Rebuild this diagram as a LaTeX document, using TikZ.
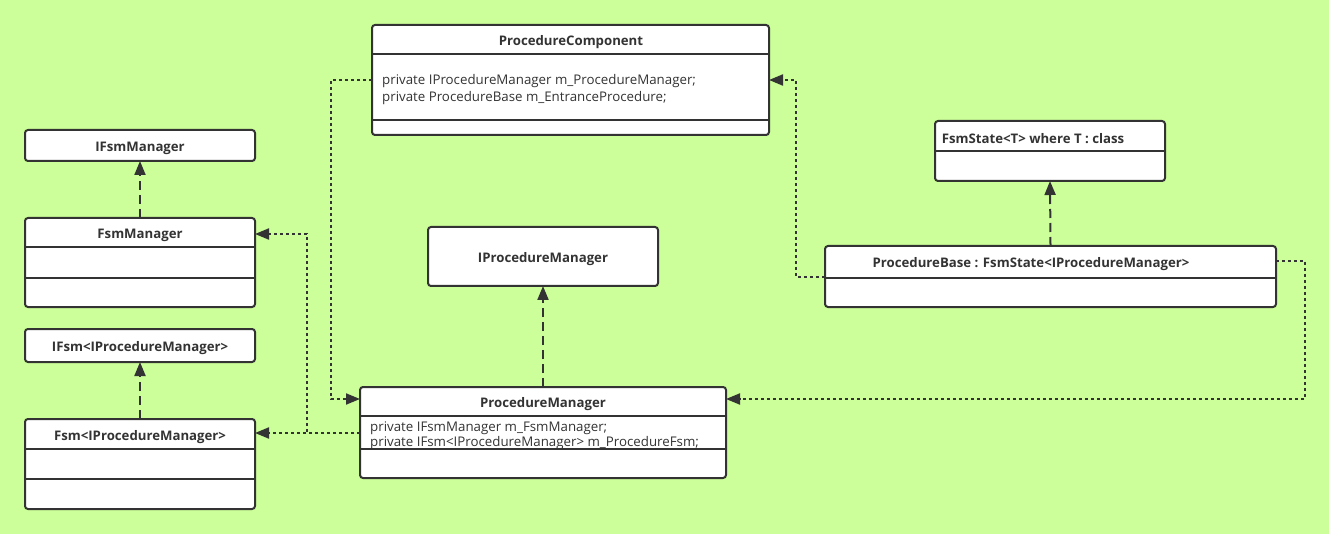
\documentclass[tikz,border=0pt]{standalone}
\usepackage{fontspec}
\setmainfont{Open Sans}
\usetikzlibrary{arrows.meta}
\definecolor{bg}{HTML}{CCFF99}
\definecolor{ink}{HTML}{333333}

\begin{document}
\begin{tikzpicture}[x=1pt, y=-1pt, font=\fontsize{13.3}{17}\selectfont,
  >={Triangle[length=14pt, width=11pt]},
  cls/.style={draw=ink, fill=white, line width=2pt, rounded corners=3pt,
    anchor=north west, inner sep=0pt, outer sep=0pt},
  ttl/.style={font=\fontsize{13.2}{16}\selectfont\bfseries, text=ink, inner sep=0pt, yshift=-1.5pt},
  attr/.style={text=ink, align=left, anchor=north west, inner sep=0pt},
  sep/.style={draw=ink, line width=2pt},
  impl/.style={->, draw=ink, line width=2pt, dash pattern=on 9pt off 5pt},
  dep/.style={->, draw=ink, line width=2pt, dash pattern=on 3pt off 3pt}]
  \fill[bg] (0,0) rectangle (1329,534);
  \useasboundingbox (0,0) rectangle (1329,534);

  % classes
  \node[cls, minimum width=397pt, minimum height=110pt] (pc) at (372,25) {};
  \node[cls, minimum width=230pt, minimum height=31pt] (ifm) at (25,130) {};
  \node[cls, minimum width=230pt, minimum height=89pt] (fm) at (25,218) {};
  \node[cls, minimum width=230pt, minimum height=33pt] (ifsm) at (25,329) {};
  \node[cls, minimum width=230pt, minimum height=90pt] (fsm) at (25,419) {};
  \node[cls, minimum width=230pt, minimum height=59pt] (ipm) at (428,227) {};
  \node[cls, minimum width=366pt, minimum height=91pt] (pm) at (360,387) {};
  \node[cls, minimum width=230pt, minimum height=60pt] (fs) at (935,121) {};
  \node[cls, minimum width=451pt, minimum height=61pt] (pb) at (825,246) {};

  \draw[sep] (pc.west |- 0,54) -- (pc.east |- 0,54);
  \draw[sep] (pc.west |- 0,120) -- (pc.east |- 0,120);
  \draw[sep] (fm.west |- 0,247) -- (fm.east |- 0,247);
  \draw[sep] (fm.west |- 0,278) -- (fm.east |- 0,278);
  \draw[sep] (fsm.west |- 0,449) -- (fsm.east |- 0,449);
  \draw[sep] (fsm.west |- 0,479) -- (fsm.east |- 0,479);
  \draw[sep] (pm.west |- 0,416) -- (pm.east |- 0,416);
  \draw[sep] (fs.west |- 0,151) -- (fs.east |- 0,151);
  \draw[sep] (pb.west |- 0,278) -- (pb.east |- 0,278);

  \node[ttl] (pcT) at (571,41) {ProcedureComponent};
  \node[ttl] (ifmT) at (140,147) {IFsmManager};
  \node[ttl] (fmT) at (140,234) {FsmManager};
  \node[ttl] (ifsmT) at (140,347) {IFsm<IProcedureManager>};
  \node[ttl] (fsmT) at (140,436) {Fsm<IProcedureManager>};
  \node[ttl] (ipmT) at (543,258) {IProcedureManager};
  \node[ttl] (pmT) at (543,403) {ProcedureManager};
  \node[ttl] (fsT) at (1033,137) {FsmState<T> where T : class};
  \node[ttl] (pbT) at (1031,263) {ProcedureBase : FsmState<IProcedureManager>};

  \node[attr] (pcA) at (382,74) {private IProcedureManager m\_ProcedureManager;\\
    private ProcedureBase m\_EntranceProcedure;};
  \node[attr, font=\fontsize{13.3}{15}\selectfont] (pmA) at (370,422) {private IFsmManager m\_FsmManager;\\
    private IFsm<IProcedureManager> m\_ProcedureFsm;};
  \draw[sep] (pm.west |- 0,449) -- (pm.east |- 0,449);

  % relations
  \draw[impl] (fm.north) -- (ifm.south);
  \draw[impl] (fsm.north) -- (ifsm.south);
  \draw[impl] (pm.north) -- (ipm.south);
  \draw[impl] (pb.north) -- (fs.south);

  \draw[dep] (pc.west |- 0,80) -- (331,80) |- (pm.west |- 0,399);
  \draw[dep] (pm.west |- 0,433) -- (fsm.east |- 0,433);
  \draw[dep] (pm.west |- 0,433) -- (307,433) |- (fm.east |- 0,234);
  \draw[dep] (pb.west |- 0,277) -- (796,277) |- (pc.east |- 0,80);
  \draw[dep] (pb.east |- 0,261) -- (1305,261) |- (pm.east |- 0,399);
\end{tikzpicture}
\end{document}
